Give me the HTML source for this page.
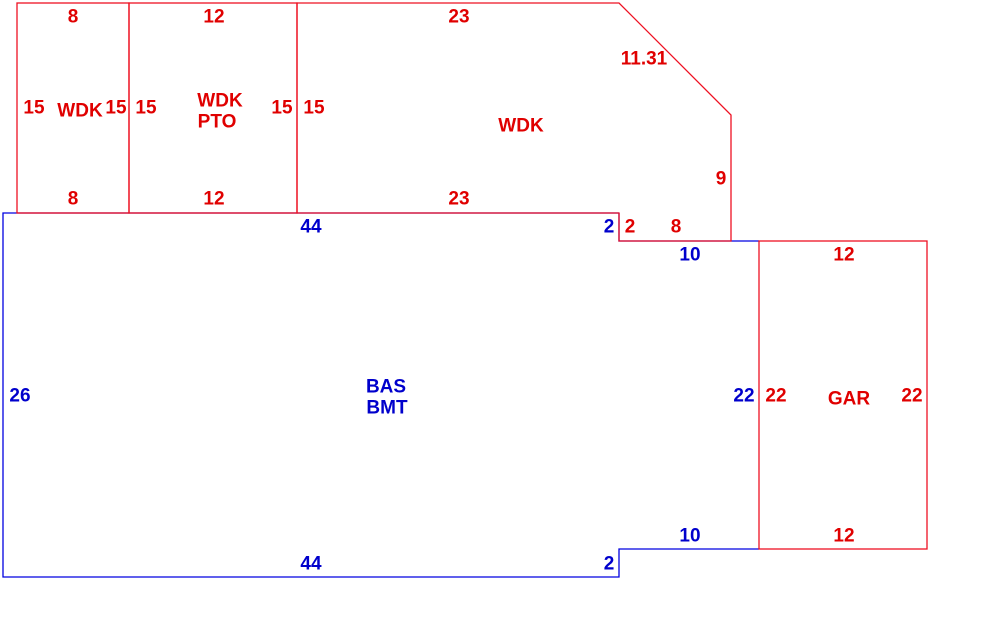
<!DOCTYPE html>
<html><head><meta charset="utf-8"><style>
html,body{margin:0;padding:0;background:#fff;}
svg{display:block;}
text{font-family:"Liberation Sans",sans-serif;font-size:19px;font-weight:bold;text-anchor:middle;dominant-baseline:central;}
.r{fill:#e00000;}
.b{fill:#0000cc;}
</style></head><body>
<svg width="990" height="644" viewBox="0 0 990 644" xmlns="http://www.w3.org/2000/svg">
<g fill="none" stroke-width="1.3">
<polyline stroke="#0000e0" points="619,213 3,213 3,577 619,577 619,549 759,549" />
<polyline stroke="#0000e0" points="619,213 619,241 759,241" />
<rect stroke="#ee1122" x="17" y="3" width="112" height="210"/>
<rect stroke="#ee1122" x="129" y="3" width="168" height="210"/>
<polygon stroke="#ee1122" points="297,3 619,3 731,115 731,241 619,241 619,213 297,213"/>
<rect stroke="#ee1122" x="759" y="241" width="168" height="308"/>
</g>
<g class="r" transform="translate(0,1)">
<text x="73" y="16">8</text><text x="214" y="16">12</text><text x="459" y="16">23</text>
<text x="644" y="58">11.31</text>
<text x="34" y="107">15</text><text x="80" y="110">WDK</text><text x="116" y="107">15</text>
<text x="146" y="107">15</text><text x="220" y="100">WDK</text><text x="217" y="121">PTO</text>
<text x="282" y="107">15</text><text x="314" y="107">15</text>
<text x="521" y="125">WDK</text><text x="721" y="178">9</text>
<text x="73" y="198">8</text><text x="214" y="198">12</text><text x="459" y="198">23</text>
<text x="630" y="226">2</text><text x="676" y="226">8</text>
<text x="844" y="254">12</text><text x="776" y="395">22</text><text x="849" y="398">GAR</text>
<text x="912" y="395">22</text><text x="844" y="535">12</text>
</g>
<g class="b" transform="translate(0,1)">
<text x="311" y="226">44</text><text x="609" y="226">2</text><text x="690" y="254">10</text>
<text x="20" y="395">26</text><text x="386" y="386">BAS</text><text x="387" y="407">BMT</text>
<text x="744" y="395">22</text><text x="690" y="535">10</text>
<text x="311" y="563">44</text><text x="609" y="563">2</text>
</g>
</svg>
</body></html>
